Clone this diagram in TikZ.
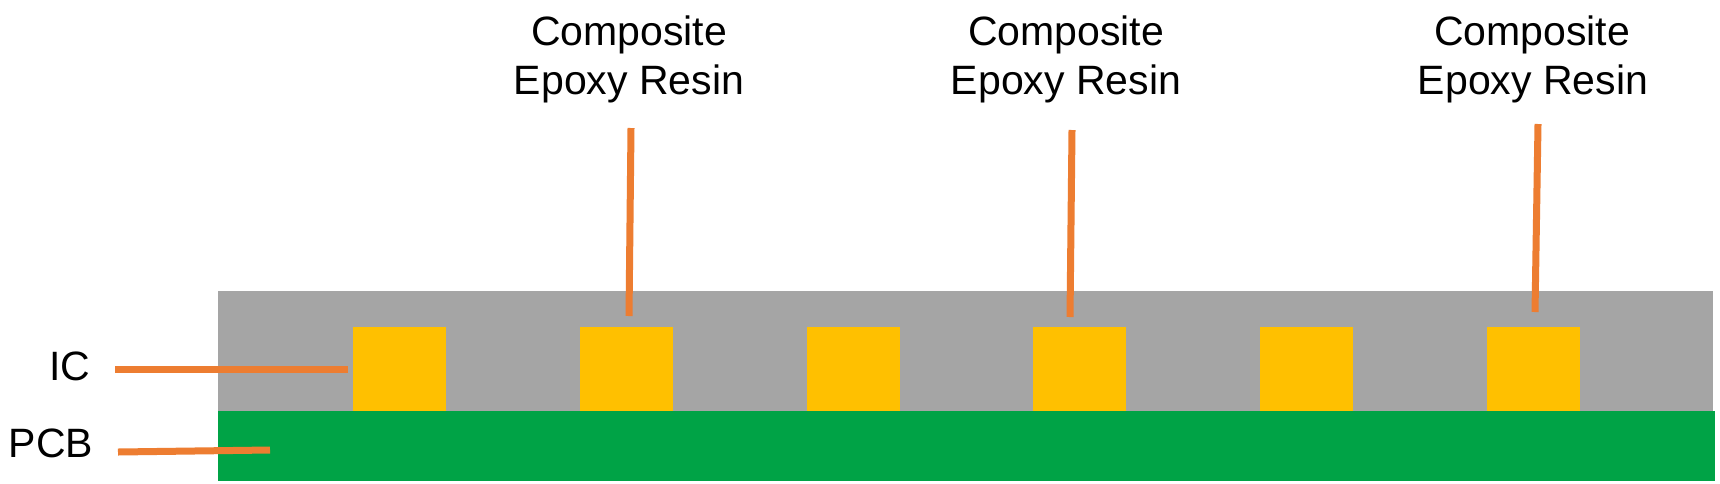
\documentclass[tikz,border=0pt]{standalone}
\usepackage{fontspec}
\setmainfont{Liberation Sans}
\definecolor{resin}{HTML}{A5A5A5}
\definecolor{board}{HTML}{00A346}
\definecolor{chip}{HTML}{FFC000}
\definecolor{lead}{HTML}{ED7D31}
\tikzset{
  x=1pt,y=-1pt,
  block/.style={anchor=north west,inner sep=0pt,outer sep=0pt,draw=none},
  chipbox/.style={block,fill=chip,minimum width=93pt,minimum height=84pt},
  lbl/.style={inner sep=0pt,outer sep=0pt,anchor=base,font=\fontsize{41}{49}\selectfont,text=black},
  leadline/.style={draw=lead,line width=7pt}
}
\begin{document}
\begin{tikzpicture}
\useasboundingbox (0,0) rectangle (1720,483);
\fill[white] (0,0) rectangle (1720,483);
\node[block,fill=resin,minimum width=1495pt,minimum height=120pt] (resin) at (218,291) {};
\node[block,fill=board,minimum width=1497pt,minimum height=70pt] (pcb) at (218,411) {};
\node[chipbox] (c1) at (353,327) {};
\node[chipbox] (c2) at (580,327) {};
\node[chipbox] (c3) at (807,327) {};
\node[chipbox] (c4) at (1033,327) {};
\node[chipbox] (c5) at (1260,327) {};
\node[chipbox] (c6) at (1487,327) {};
\node[lbl] (t1a) at (629,45) {Composite};
\node[lbl] (t1b) at (629,94) {Epoxy Resin};
\node[lbl] (t2a) at (1066,45) {Composite};
\node[lbl] (t2b) at (1066,94) {Epoxy Resin};
\node[lbl] (t3a) at (1532,45) {Composite};
\node[lbl] (t3b) at (1533,94) {Epoxy Resin};
\node[lbl] (ic) at (70,380) {IC};
\node[lbl] (pcbl) at (51,457) {PCB};
\coordinate (a1) at (631,128);
\coordinate (b1) at (629,316);
\coordinate (a2) at (1072,130);
\coordinate (b2) at (1070,317);
\coordinate (a3) at (1538,124);
\coordinate (b3) at (1535,312);
\coordinate (a4) at (115,369);
\coordinate (b4) at (348,369);
\coordinate (a5) at (118,452);
\coordinate (b5) at (270,450);
\draw[leadline] (a1) -- (b1);
\draw[leadline] (a2) -- (b2);
\draw[leadline] (a3) -- (b3);
\draw[leadline] (a4) -- (b4);
\draw[leadline] (a5) -- (b5);
\end{tikzpicture}
\end{document}
